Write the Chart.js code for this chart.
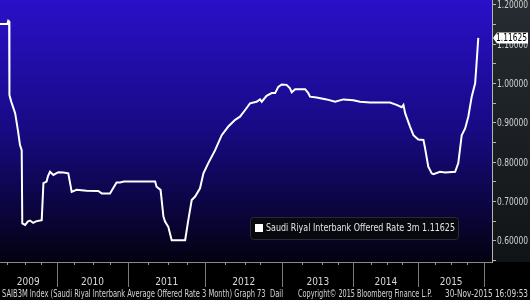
<!DOCTYPE html>
<html>
<head>
<meta charset="utf-8">
<script src="https://cdn.jsdelivr.net/npm/chart.js@4.4.1/dist/chart.umd.min.js"></script>
<style>
  html, body { margin: 0; padding: 0; background: #000; }
  canvas { display: block; }
</style>
</head>
<body>
<canvas id="chart" width="530" height="300"></canvas>
<script>
const session = [0, 26, 29, 32, 33, 39, 53, 63, 70, 76, 78, 88, 98, 105, 116, 126, 140, 146, 152, 163,
  168, 175, 187, 204, 222, 239, 251, 268, 303, 344, 356, 385, 408, 420, 434, 443, 543, 548, 562, 572,
  578, 589, 601, 648, 659, 671, 683, 700, 712, 729, 753, 776, 799, 823, 840, 858, 875, 898, 910, 916,
  933, 951, 963, 974, 986, 1003, 1015, 1021, 1033, 1068, 1079, 1085, 1108, 1143, 1173, 1202, 1237, 1260,
  1295, 1365, 1388, 1406, 1412, 1418, 1435, 1447, 1464, 1482, 1488, 1499, 1511, 1517, 1540, 1558, 1593,
  1604, 1616, 1628, 1639, 1651, 1663, 1668, 1674];
const rate = [1.152, 1.152, 1.160, 1.158, 0.971, 0.955, 0.925, 0.880, 0.844, 0.831, 0.645, 0.641, 0.650, 0.652, 0.646, 0.650, 0.652, 0.653, 0.747, 0.751,
  0.765, 0.776, 0.768, 0.775, 0.774, 0.772, 0.725, 0.730, 0.728, 0.727, 0.721, 0.721, 0.749, 0.749, 0.751, 0.751, 0.751, 0.738, 0.730, 0.662,
  0.649, 0.636, 0.602, 0.602, 0.653, 0.704, 0.713, 0.734, 0.772, 0.798, 0.831, 0.869, 0.891, 0.908, 0.916, 0.933, 0.950, 0.954, 0.960, 0.954,
  0.969, 0.976, 0.976, 0.992, 0.998, 0.997, 0.988, 0.978, 0.986, 0.986, 0.976, 0.967, 0.965, 0.960, 0.954, 0.960, 0.958, 0.954,
  0.952, 0.952, 0.946, 0.940, 0.946, 0.925, 0.891, 0.869, 0.858, 0.857, 0.835, 0.789, 0.772, 0.770, 0.776, 0.774, 0.776,
  0.798, 0.869, 0.886, 0.916, 0.967, 1.001, 1.052, 1.11625];

const yearLabels = ['2009', '2010', '2011', '2012', '2013', '2014', '2015'];
const yearEnds = [198, 449, 718, 988, 1237, 1464, 1694];
const quarterTicks = [23, 88, 142, 259, 324, 385, 518, 588, 654, 788, 858, 910, 1058, 1128, 1182,
  1299, 1353, 1408, 1523, 1579, 1633];
const rateTicks = [0.55, 0.6, 0.65, 0.7, 0.75, 0.8, 0.85, 0.9, 0.95, 1.0, 1.05, 1.1, 1.15, 1.2];
const rateLabels = [0.6, 0.7, 0.8, 0.9, 1.0, 1.1, 1.2];

const seriesName = 'Saudi Riyal Interbank Offered Rate 3m';
const footLeft = 'SAIB3M Index (Saudi Riyal Interbank Average Offered Rate 3 Month) Graph 73  Dail';
const footMid = 'Copyright\u00A9 2015 Bloomberg Finance L.P.';
const footRight = '30-Nov-2015 16:09:53';

const FONT = "'DejaVu Sans Condensed', 'Liberation Sans', sans-serif";

// label each year in the middle of its span
const yearMids = yearEnds.map((v, i) => ((i === 0 ? 0 : yearEnds[i - 1]) + v) / 2);
const lastRate = rate[rate.length - 1];

const backdrop = {
  id: 'backdrop',
  beforeDraw(chart) {
    const { ctx, chartArea: a, width, height } = chart;
    ctx.save();
    ctx.fillStyle = '#000';
    ctx.fillRect(0, 0, width, height);
    let g = ctx.createLinearGradient(0, a.top, 0, a.bottom);
    g.addColorStop(0, '#2a10c8');
    g.addColorStop(0.5, '#170a82');
    g.addColorStop(1, '#030110');
    ctx.fillStyle = g;
    ctx.fillRect(a.left, a.top, a.right - a.left, a.bottom - a.top);
    g = ctx.createLinearGradient(0, 0, 0, a.bottom);
    g.addColorStop(0, '#262c32');
    g.addColorStop(1, '#111416');
    ctx.fillStyle = g;
    ctx.fillRect(a.right, 0, width - a.right, a.bottom);
    ctx.restore();
  }
};

function seg(ctx, x1, y1, x2, y2) {
  ctx.beginPath();
  ctx.moveTo(x1, y1);
  ctx.lineTo(x2, y2);
  ctx.stroke();
}

const marks = {
  id: 'marks',
  afterDraw(chart) {
    const { ctx, chartArea: a, scales: { x, y } } = chart;
    ctx.save();
    ctx.lineWidth = 1;

    // year separators and quarter ticks under the axis
    ctx.strokeStyle = '#7a7a7a';
    yearEnds.forEach(v => {
      const px = Math.round(x.getPixelForValue(v)) + 0.5;
      seg(ctx, px, a.bottom, px, a.bottom + 25);
    });
    ctx.strokeStyle = '#9a9a9a';
    quarterTicks.forEach(v => {
      const px = Math.round(x.getPixelForValue(v)) + 0.5;
      seg(ctx, px, a.bottom, px, a.bottom + 3);
    });

    // rate labels, squeezed to the narrow axis strip
    ctx.fillStyle = '#d0d0d0';
    ctx.font = '11px ' + FONT;
    ctx.textBaseline = 'middle';
    ctx.textAlign = 'left';
    rateLabels.forEach(v => {
      ctx.fillText(v.toFixed(5), a.right + 5, y.getPixelForValue(v) + 0.5, 31);
    });

    // legend box
    ctx.fillStyle = 'rgba(8,8,14,0.95)';
    ctx.strokeStyle = '#2a2a34';
    ctx.beginPath();
    ctx.roundRect(250.5, 217.5, 208, 22, 3);
    ctx.fill();
    ctx.stroke();
    ctx.fillStyle = '#fff';
    ctx.fillRect(255, 224, 8, 8);
    ctx.fillStyle = '#e4e4e4';
    ctx.font = '11px ' + FONT;
    ctx.fillText(seriesName + ' ' + lastRate.toFixed(5), 266, 228.5, 189);

    // last value tag on the axis
    const ty = Math.round(y.getPixelForValue(lastRate));
    ctx.fillStyle = '#fff';
    ctx.beginPath();
    ctx.moveTo(a.right + 1, ty);
    ctx.lineTo(a.right + 5, ty - 5.5);
    ctx.lineTo(528, ty - 5.5);
    ctx.lineTo(528, ty + 5.5);
    ctx.lineTo(a.right + 5, ty + 5.5);
    ctx.closePath();
    ctx.fill();
    ctx.fillStyle = '#000';
    ctx.font = '11px ' + FONT;
    ctx.fillText(lastRate.toFixed(5), 496, ty + 0.5, 31);

    // footer
    ctx.fillStyle = '#d4d4d4';
    ctx.font = '10px ' + FONT;
    ctx.fillText(footLeft, 2, 294, 281);
    ctx.fillText(footMid, 298, 294, 134);
    ctx.fillText(footRight, 445, 294, 83);
    ctx.restore();
  }
};

new Chart(document.getElementById('chart'), {
  type: 'line',
  data: {
    datasets: [{
      label: seriesName,
      data: session.map((s, i) => ({ x: s, y: rate[i] })),
      borderColor: '#ffffff',
      borderWidth: 2,
      pointRadius: 0,
      tension: 0,
      fill: false
    }]
  },
  options: {
    responsive: false,
    animation: false,
    layout: { padding: 0 },
    plugins: { legend: { display: false }, tooltip: { enabled: false } },
    scales: {
      x: {
        type: 'linear',
        min: 0,
        max: 1722,
        afterBuildTicks: s => { s.ticks = yearMids.map(v => ({ value: v })); },
        afterFit: s => { s.height = 38; s.paddingLeft = 0; s.paddingRight = 0; },
        grid: { display: false, drawTicks: false },
        border: { display: true, color: '#8a8a8a', width: 1 },
        ticks: {
          autoSkip: false,
          maxRotation: 0,
          padding: 14,
          color: '#d8d8d8',
          font: { family: FONT, size: 10 },
          callback: (v, i) => yearLabels[i]
        }
      },
      y: {
        position: 'right',
        min: 0.5466,
        max: 1.2127,
        afterBuildTicks: s => { s.ticks = rateTicks.map(v => ({ value: v })); },
        afterFit: s => { s.width = 38; s.paddingTop = 0; s.paddingBottom = 0; },
        grid: { drawOnChartArea: false, drawTicks: true, tickLength: 4, color: '#b4b4b4' },
        border: { display: true, color: '#b4b4b4', width: 1 },
        ticks: { display: false }
      }
    }
  },
  plugins: [backdrop, marks]
});
</script>
</body>
</html>
